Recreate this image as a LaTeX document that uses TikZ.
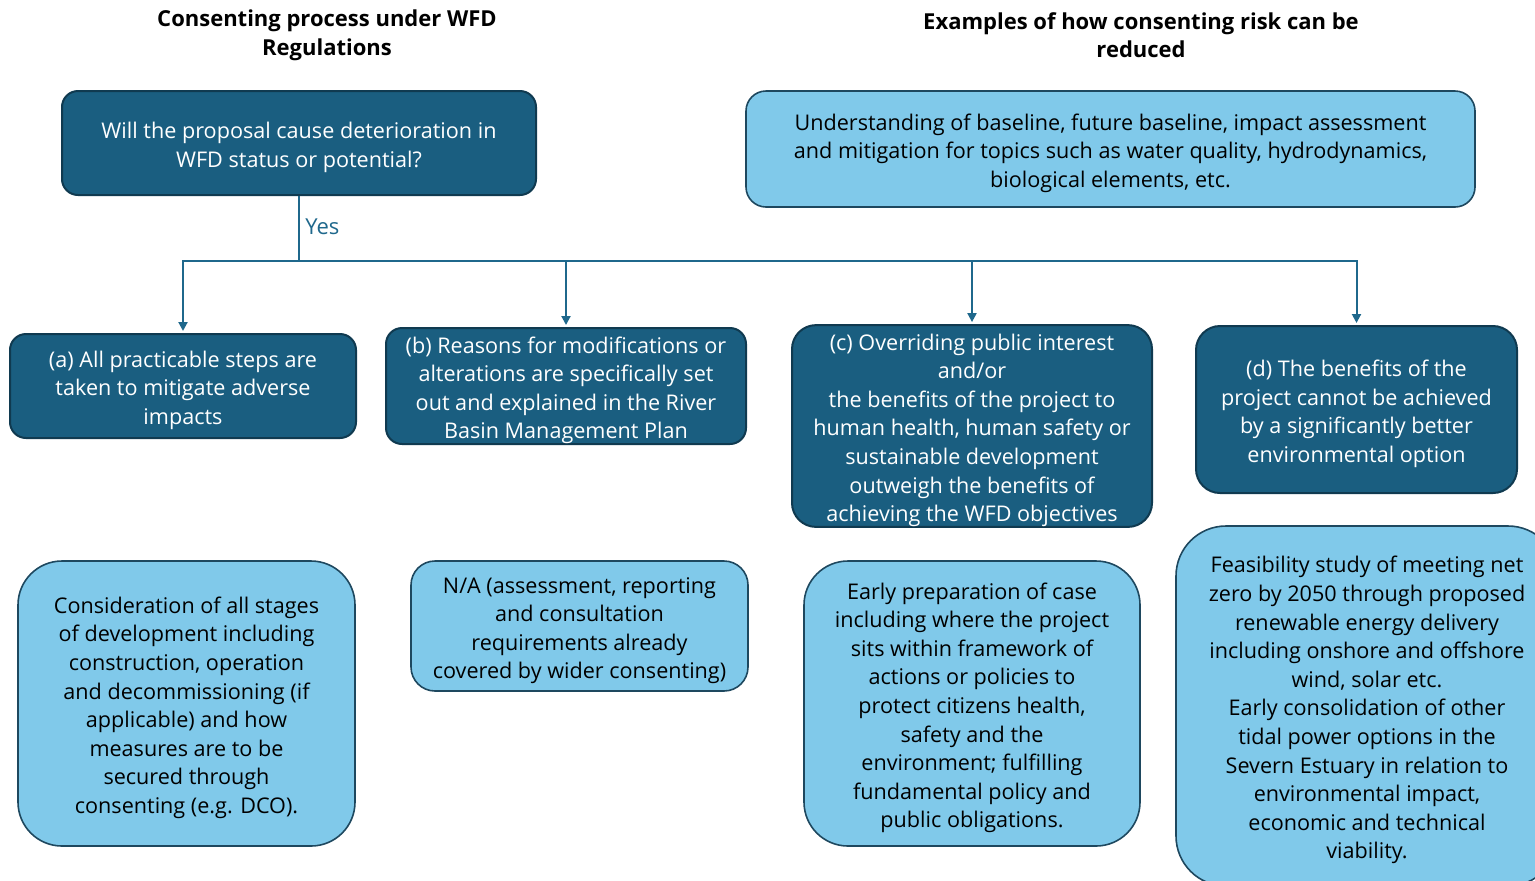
\documentclass[tikz,border=0pt]{standalone}
\usepackage{fontspec}
\setmainfont{Open Sans}
\usetikzlibrary{arrows.meta}
\definecolor{darkfill}{RGB}{26,94,128}
\definecolor{darkline}{RGB}{16,58,80}
\definecolor{lightfill}{RGB}{128,201,234}
\definecolor{lightline}{RGB}{30,72,95}
\definecolor{conn}{RGB}{31,104,140}
\newcommand{\topgap}{\rule{0pt}{12.5pt}}
\tikzset{
  txt/.style={font=\fontsize{10.8}{14.3}\selectfont, align=center, inner sep=0pt},
  darkbox/.style={txt, draw=darkline, line width=1pt, fill=darkfill, text=white, rounded corners=8pt},
  lightbox/.style={txt, draw=lightline, line width=0.8pt, fill=lightfill, text=black},
  header/.style={font=\fontsize{11}{14.3}\selectfont\bfseries, align=center, inner sep=0pt},
  conline/.style={draw=conn, line width=1pt},
  arr/.style={conline, -{Triangle[length=4.5pt,width=4.5pt]}, shorten >=1pt},
}
\begin{document}
\begin{tikzpicture}[x=0.5pt, y=-0.5pt]
\useasboundingbox (0,0) rectangle (1535,880);
\clip (0,0) rectangle (1535,880);

\node[header] (h1) at (327,35) {Consenting process under WFD\\Regulations};
\node[header] (h2) at (1141,35) {Examples of how consenting risk can be\\reduced};

\node[darkbox, minimum width=237pt, minimum height=52pt] (q) at (299,143)
  {\topgap Will the proposal cause deterioration in\\WFD status or potential?};
\node[lightbox, rounded corners=10pt, minimum width=364.5pt, minimum height=58pt] (r) at (1110.5,149)
  {\topgap Understanding of baseline, future baseline, impact assessment\\and mitigation for topics such as water quality, hydrodynamics,\\biological elements, etc.};

\node[darkbox, minimum width=173pt, minimum height=52pt] (a) at (183,386)
  {\topgap (a) All practicable steps are\\taken to mitigate adverse\\impacts};
\node[darkbox, minimum width=180pt, minimum height=58pt] (b) at (566,386)
  {\topgap (b) Reasons for modifications or\\alterations are specifically set\\out and explained in the River\\Basin Management Plan};
\node[darkbox, rounded corners=12pt, minimum width=180pt, minimum height=100pt] (c) at (972,426)
  {\topgap (c) Overriding public interest\\and/or\\the benefits of the project to\\human health, human safety or\\sustainable development\\outweigh the benefits of\\achieving the WFD objectives};
\node[darkbox, rounded corners=12pt, minimum width=160.5pt, minimum height=83.5pt] (d) at (1356.5,409.5)
  {\topgap (d) The benefits of the\\project cannot be achieved\\by a significantly better\\environmental option};

\node[lightbox, rounded corners=22pt, minimum width=168.5pt, minimum height=142.5pt] (la) at (186.5,703.5)
  {\topgap Consideration of all stages\\of development including\\construction, operation\\and decommissioning (if\\applicable) and how\\measures are to be\\secured through\\consenting (e.g. DCO).};
\node[lightbox, rounded corners=12pt, minimum width=168.5pt, minimum height=65pt] (lb) at (579.5,626)
  {\topgap N/A (assessment, reporting\\and consultation\\requirements already\\covered by wider consenting)};
\node[lightbox, rounded corners=22pt, minimum width=168pt, minimum height=142.5pt] (lc) at (972,703.5)
  {\topgap Early preparation of case\\including where the project\\sits within framework of\\actions or policies to\\protect citizens health,\\safety and the\\environment; fulfilling\\fundamental policy and\\public obligations.};
\node[lightbox, rounded corners=25pt, minimum width=191pt, minimum height=180pt] (ld) at (1367,706)
  {\topgap Feasibility study of meeting net\\zero by 2050 through proposed\\renewable energy delivery\\including onshore and offshore\\wind, solar etc.\\Early consolidation of other\\tidal power options in the\\Severn Estuary in relation to\\environmental impact,\\economic and technical\\viability.};

\coordinate (bus) at (299,261);
\draw[conline] (q.south) -- (bus);
\node[font=\fontsize{11}{12}\selectfont, text=conn, anchor=west, inner sep=0pt] (yes) at (305,227) {Yes};
\draw[arr] (bus) -| (a.north);
\draw[arr] (bus) -| (b.north);
\draw[arr] (bus) -| (c.north);
\draw[arr] (bus) -| (d.north);
\end{tikzpicture}
\end{document}
